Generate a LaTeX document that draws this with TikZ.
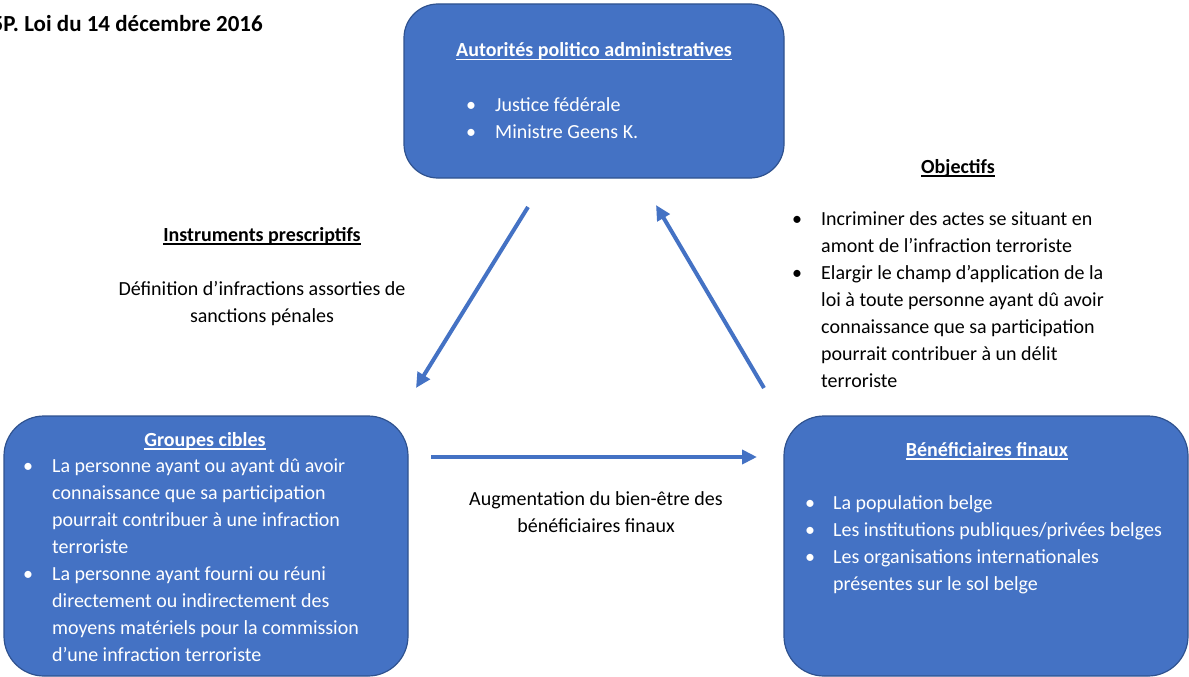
\documentclass[tikz,border=0pt]{standalone}
\usepackage{fontspec}
\setmainfont{Carlito}
\usetikzlibrary{arrows.meta}
\definecolor{boxblue}{HTML}{4472C4}
\definecolor{boxedge}{HTML}{2F528F}
\newcommand{\myul}[1]{{\setbox0\hbox{#1}\rlap{\rule[-3.5pt]{\wd0}{1.3pt}}\box0}}
\begin{document}
\begin{tikzpicture}[x=1pt,y=-1pt,
  box/.style={draw=boxedge, line width=1.2pt, fill=boxblue, rounded corners=34pt, inner sep=0pt},
  txt/.style={font=\fontsize{20}{27}\selectfont, inner sep=0pt, text=black},
  wtxt/.style={txt, text=white},
  arr/.style={draw=boxblue, line width=4pt, -{Triangle[length=15pt,width=14pt]}}]
\useasboundingbox (0,0) rectangle (1189,677);

% boxes
\node[box, minimum width=380pt, minimum height=174pt] (top) at (594,91) {};
\node[box, minimum width=404pt, minimum height=260pt, rounded corners=40pt] (left) at (206,546) {};
\node[box, minimum width=404pt, minimum height=260pt, rounded corners=40pt] (right) at (986,546) {};

% heading
\node[txt, anchor=base east, font=\fontsize{23}{28}\selectfont\bfseries] (head) at (263,32) {5P. Loi du 14 décembre 2016};

% top box text
\node[wtxt, anchor=base, font=\fontsize{20}{27}\selectfont\bfseries] (toptitle) at (594,57) {\myul{Autorités politico administratives}};
\node[wtxt, anchor=base west] (toplist) at (466,111) {\begin{tabular}[t]{@{}p{29pt}@{}l@{}}
\textbullet & Justice fédérale\\
\textbullet & Ministre Geens K.
\end{tabular}};

% left box text
\node[wtxt, anchor=base, font=\fontsize{20}{27}\selectfont\bfseries] (lefttitle) at (205,446) {\myul{Groupes cibles}};
\node[wtxt, anchor=base west] (leftlist) at (23,472) {\begin{tabular}[t]{@{}p{29pt}@{}l@{}}
\textbullet & La personne ayant ou ayant dû avoir\\
 & connaissance que sa participation\\
 & pourrait contribuer à une infraction\\
 & terroriste\\
\textbullet & La personne ayant fourni ou réuni\\
 & directement ou indirectement des\\
 & moyens matériels pour la commission\\
 & d’une infraction terroriste
\end{tabular}};

% right box text
\node[wtxt, anchor=base, font=\fontsize{20}{27}\selectfont\bfseries] (righttitle) at (987,456) {\myul{Bénéficiaires finaux}};
\node[wtxt, anchor=base west] (rightlist) at (805,509) {\begin{tabular}[t]{@{}p{28pt}@{}l@{}}
\textbullet & La population belge\\
\textbullet & Les institutions publiques/privées belges\\
\textbullet & Les organisations internationales\\
 & présentes sur le sol belge
\end{tabular}};

% objectifs
\node[txt, anchor=base, font=\fontsize{20}{27}\selectfont\bfseries] (objtitle) at (958,173) {\myul{Objectifs}};
\node[txt, anchor=base west] (objlist) at (792,225) {\begin{tabular}[t]{@{}p{29pt}@{}l@{}}
\textbullet & Incriminer des actes se situant en\\
 & amont de l’infraction terroriste\\
\textbullet & Elargir le champ d’application de la\\
 & loi à toute personne ayant dû avoir\\
 & connaissance que sa participation\\
 & pourrait contribuer à un délit\\
 & terroriste
\end{tabular}};

% instruments
\node[txt, anchor=base, font=\fontsize{20}{27}\selectfont\bfseries] (insttitle) at (262,241) {\myul{Instruments prescriptifs}};
\node[txt, anchor=base] (insttext) at (262,295) {\begin{tabular}[t]{@{}c@{}}
Définition d’infractions assorties de\\
sanctions pénales
\end{tabular}};

% augmentation
\node[txt, anchor=base] (augtext) at (596,505) {\begin{tabular}[t]{@{}c@{}}
Augmentation du bien-être des\\
bénéficiaires finaux
\end{tabular}};

% arrows
\coordinate (a1s) at (528,207);
\coordinate (a1e) at (416,388);
\coordinate (a2s) at (764,388);
\coordinate (a2e) at (656,205);
\coordinate (a3s) at (431,457);
\coordinate (a3e) at (757,457);
\draw[arr] (a1s) -- (a1e);
\draw[arr] (a2s) -- (a2e);
\draw[arr] (a3s) -- (a3e);
\end{tikzpicture}
\end{document}
